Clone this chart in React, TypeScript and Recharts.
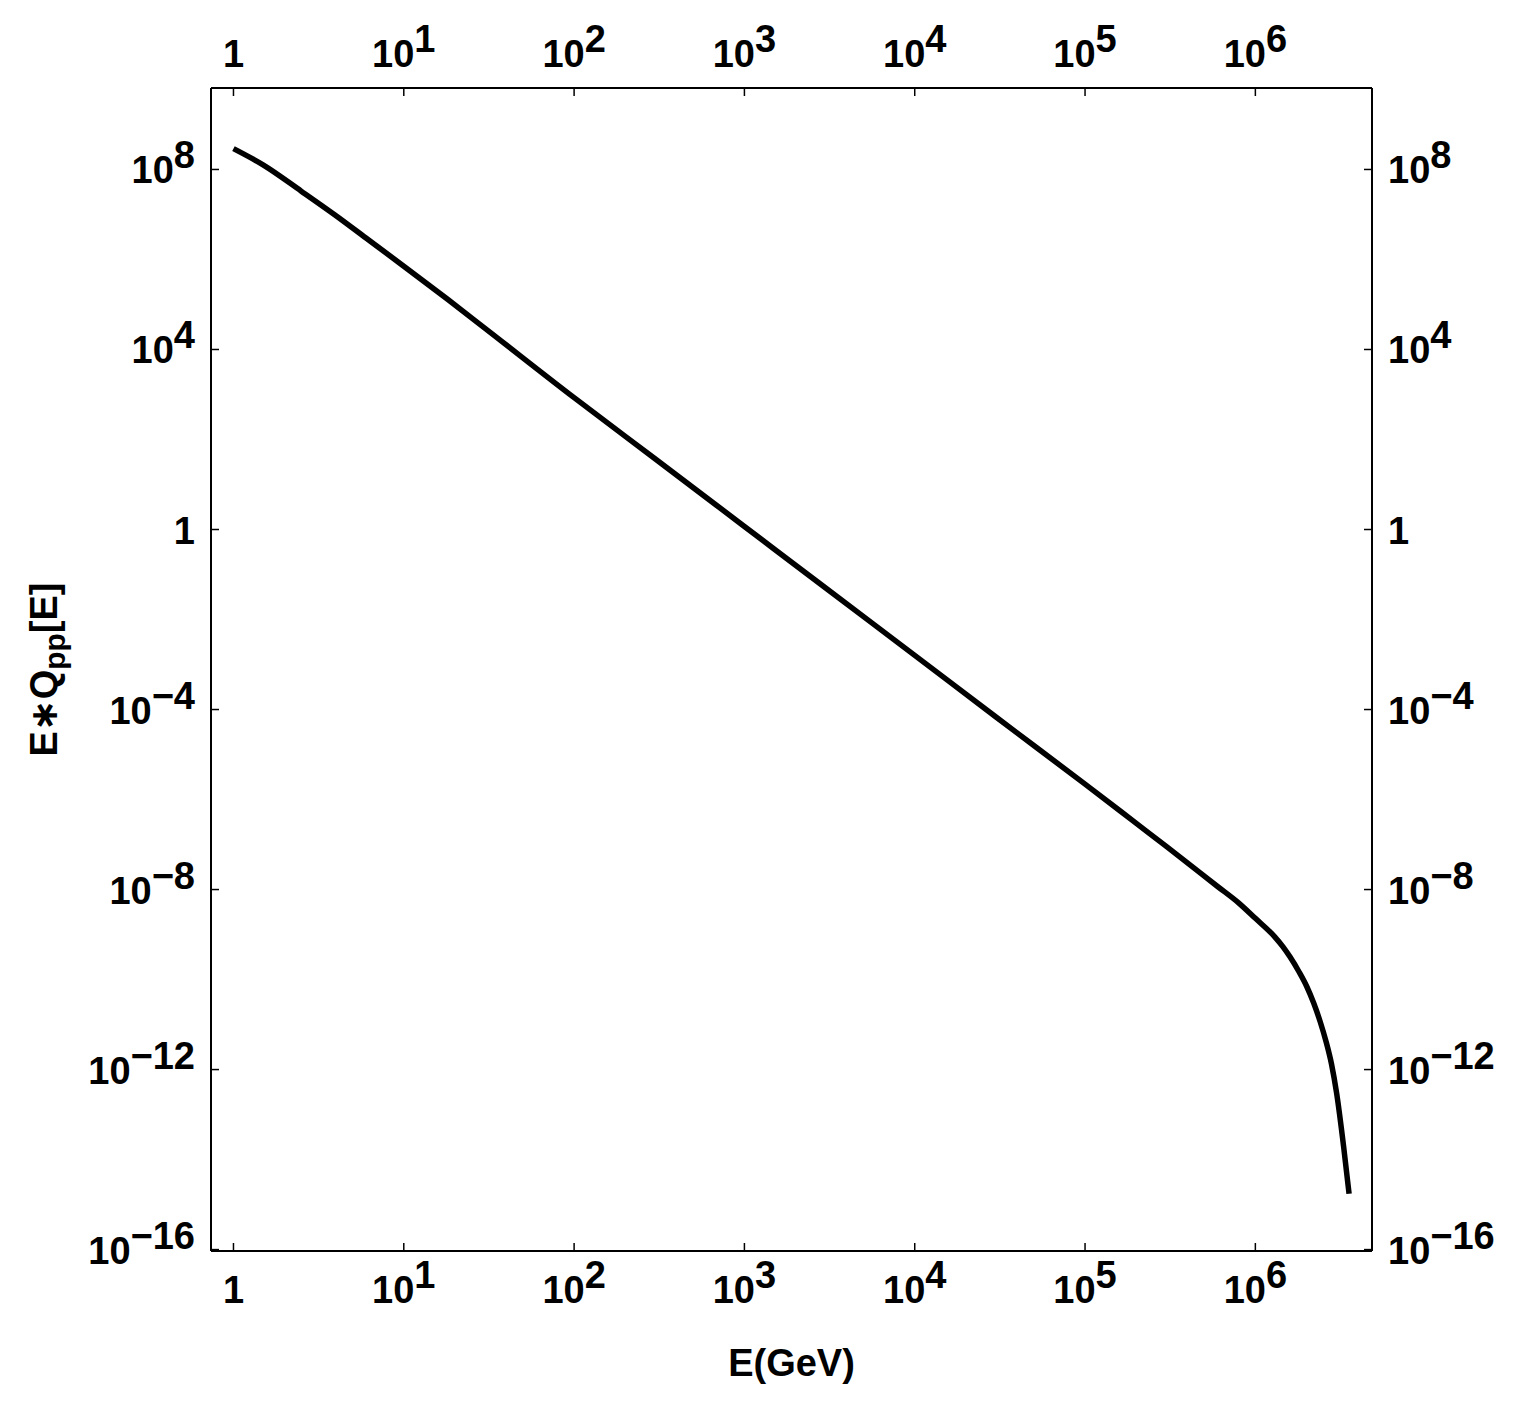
import React from 'react';
import { LineChart, Line, XAxis, YAxis, Label } from 'recharts';

// E in GeV
const energies = [
  1, 1.5, 2.5, 4, 6, 10, 18, 30, 100, 300, 1e3, 3e3, 1e4, 3e4, 1e5, 2e5, 3e5,
  6e5, 8e5, 1e6, 1.3e6, 1.45e6, 1.6e6, 1.8e6, 2e6, 2.2e6, 2.4e6, 2.6e6, 2.8e6,
  3e6, 3.3e6, 3.55e6,
];
// E*Qpp[E]
const fluxes = [
  2.9e8, 1.25e8, 3.3e7, 9.4e6, 3.0e6, 7.1e5, 1.32e5, 2.95e4, 850, 37, 1.17, 0.05,
  1.6e-3, 6.8e-5, 2.2e-6, 2.95e-7, 9.1e-8, 1.17e-8, 5.0e-9, 2.29e-9, 8.9e-10,
  5.4e-10, 3.16e-10, 1.51e-10, 7.1e-11, 3.0e-11, 1.17e-11, 4.2e-12, 1.32e-12,
  3.0e-13, 1.9e-14, 1.74e-15,
];
const xTicks = [1, 1e1, 1e2, 1e3, 1e4, 1e5, 1e6];
const yTicks = [1e8, 1e4, 1, 1e-4, 1e-8, 1e-12, 1e-16];

const data = energies.map((e, i) => ({ e, q: fluxes[i] }));

const FONT = '"Liberation Sans", Arial, sans-serif';
const FS = 38;

function TickText({ x, y, value, anchor }: { x: number; y: number; value: number; anchor: string }) {
  const p = Math.round(Math.log10(value));
  return (
    <text x={x} y={y} textAnchor={anchor} fontFamily={FONT} fontWeight="bold" fontSize={FS} fill="#000">
      {p === 0 ? (
        '1'
      ) : (
        <>
          <tspan>10</tspan>
          <tspan dy={-15}>{String(p).replace('-', '\u2212')}</tspan>
        </>
      )}
    </text>
  );
}

const BottomTick = (props: any) => (
  <TickText x={props.x} y={props.y + 52} value={props.payload.value} anchor="middle" />
);
const TopTick = (props: any) => (
  <TickText x={props.x} y={props.y - 21} value={props.payload.value} anchor="middle" />
);
const LeftTick = (props: any) => (
  <TickText x={props.x - 16} y={props.y + 14} value={props.payload.value} anchor="end" />
);
const RightTick = (props: any) => (
  <TickText x={props.x + 16} y={props.y + 14} value={props.payload.value} anchor="start" />
);

const axisLine = { stroke: '#000', strokeWidth: 2 };
const tickLine = { stroke: '#000', strokeWidth: 1.5 };
const xDomain = [0.738, 4.84e6];
const yDomain = [9.3e-17, 6.46e9];

export default function App() {
  return (
    <div style={{ position: 'absolute', left: 0, top: 0, background: '#fff' }}>
      <LineChart
        width={1524}
        height={1404}
        data={data}
        margin={{ top: 28, right: 32, bottom: 53, left: 91 }}
      >
        <XAxis
          xAxisId="b"
          dataKey="e"
          type="number"
          scale="log"
          domain={xDomain}
          allowDataOverflow
          ticks={xTicks}
          interval={0}
          height={100}
          axisLine={axisLine}
          tickLine={tickLine}
          tickSize={-8}
          tickMargin={8}
          tick={BottomTick}
        >
          <Label
            content={(p: any) => {
              const vb = p.viewBox;
              return (
                <text
                  x={vb.x + vb.width / 2}
                  y={vb.y + 125}
                  textAnchor="middle"
                  fontFamily={FONT}
                  fontWeight="bold"
                  fontSize={FS}
                  fill="#000"
                >
                  E(GeV)
                </text>
              );
            }}
          />
        </XAxis>
        <XAxis
          xAxisId="t"
          orientation="top"
          dataKey="e"
          type="number"
          scale="log"
          domain={xDomain}
          allowDataOverflow
          ticks={xTicks}
          interval={0}
          height={60}
          axisLine={axisLine}
          tickLine={tickLine}
          tickSize={-8}
          tickMargin={8}
          tick={TopTick}
        />
        <YAxis
          yAxisId="l"
          type="number"
          scale="log"
          domain={yDomain}
          allowDataOverflow
          ticks={yTicks}
          interval={0}
          width={120}
          axisLine={axisLine}
          tickLine={tickLine}
          tickSize={-8}
          tickMargin={8}
          tick={LeftTick}
        >
          <Label
            content={(p: any) => {
              const vb = p.viewBox;
              const cx = vb.x + vb.width - 154;
              const cy = vb.y + vb.height / 2;
              return (
                <text
                  x={cx}
                  y={cy}
                  transform={`rotate(-90 ${cx} ${cy})`}
                  textAnchor="middle"
                  fontFamily={FONT}
                  fontWeight="bold"
                  fontSize={FS}
                  fill="#000"
                >
                  <tspan>E</tspan>
                  <tspan fontFamily='"DejaVu Sans", sans-serif'>{'\u2217'}</tspan>
                  <tspan>Q</tspan>
                  <tspan fontSize={30} dy={8}>pp</tspan>
                  <tspan dy={-8}>[E]</tspan>
                </text>
              );
            }}
          />
        </YAxis>
        <YAxis
          yAxisId="r"
          orientation="right"
          type="number"
          scale="log"
          domain={yDomain}
          allowDataOverflow
          ticks={yTicks}
          interval={0}
          width={120}
          axisLine={axisLine}
          tickLine={tickLine}
          tickSize={-8}
          tickMargin={8}
          tick={RightTick}
        />
        <Line
          xAxisId="b"
          yAxisId="l"
          dataKey="q"
          type="monotone"
          stroke="#000"
          strokeWidth={5.5}
          dot={false}
          isAnimationActive={false}
        />
        <Line
          xAxisId="t"
          yAxisId="r"
          dataKey="q"
          type="monotone"
          stroke="none"
          dot={false}
          activeDot={false}
          isAnimationActive={false}
        />
      </LineChart>
    </div>
  );
}
